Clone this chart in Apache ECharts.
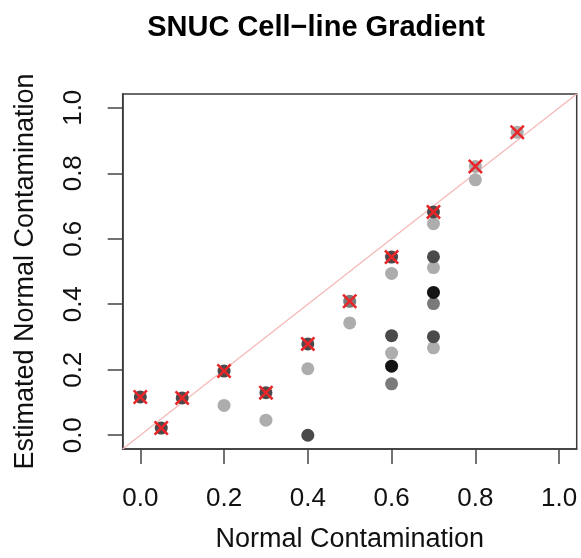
<!DOCTYPE html>
<html>
<head>
<meta charset="utf-8">
<script src="https://cdn.jsdelivr.net/npm/echarts@6/dist/echarts.min.js"></script>
<style>
html,body{margin:0;padding:0;background:#fff;}
#main{width:581px;height:558px;}
</style>
</head>
<body>
<div id="main"></div>
<script>
// ---- data ----
var titleText = "SNUC Cell\u2212line Gradient";
var xName = "Normal Contamination";
var yName = "Estimated Normal Contamination";
var tickValues = [0, 0.2, 0.4, 0.6, 0.8, 1.0];
var axisMin = -0.042, axisMax = 1.042;

// red X markers (estimates)
var crossPoints = [[0,0.117],[0.05,0.022],[0.1,0.114],[0.2,0.196],[0.3,0.130],[0.4,0.279],[0.5,0.409],[0.6,0.544],[0.7,0.682],[0.8,0.821],[0.9,0.925]];
// grey points grouped by shade
var lightPoints = [[0.8,0.821],[0.9,0.925],[0.2,0.091],[0.3,0.046],[0.4,0.203],[0.5,0.343],[0.6,0.494],[0.6,0.251],[0.7,0.646],[0.7,0.512],[0.7,0.267],[0.8,0.780]];
var midPoints = [[0.5,0.409],[0.6,0.157],[0.7,0.402]];
var darkPoints = [[0,0.117],[0.05,0.022],[0.1,0.114],[0.2,0.196],[0.3,0.130],[0.4,0.279],[0.6,0.544],[0.7,0.682],[0.4,0.0],[0.6,0.304],[0.7,0.545],[0.7,0.301]];
var blackPoints = [[0.6,0.211],[0.7,0.436]];

var chart = echarts.init(document.getElementById('main'), null, {renderer:'canvas'});
var FONT = '"Liberation Sans", Arial, sans-serif';
var crossPath = 'path://M0,1.2 L1.2,0 L5,3.8 L8.8,0 L10,1.2 L6.2,5 L10,8.8 L8.8,10 L5,6.2 L1.2,10 L0,8.8 L3.8,5 Z';

function scat(data, color) {
  return {type:'scatter', data:data, symbol:'circle', symbolSize:13, silent:true,
    itemStyle:{color:color, opacity:1}};
}

chart.setOption({
  animation:false,
  backgroundColor:'#fff',
  title:{text:titleText, left:311, top:8, textAlign:'center',
    textStyle:{fontFamily:FONT, fontSize:29, fontWeight:'bold', color:'#000'}},
  grid:{left:122.7, top:94, right:4.3, bottom:108, show:true, borderColor:'#3a3a3a', borderWidth:1.5, backgroundColor:'#fff', containLabel:false},
  xAxis:{type:'value', min:axisMin, max:axisMax,
    name:xName, nameLocation:'middle', nameGap:77,
    nameTextStyle:{fontFamily:FONT, fontSize:27, color:'#111'},
    axisLine:{show:true, onZero:false, lineStyle:{color:'#3a3a3a', width:1.5}},
    splitLine:{show:false},
    axisTick:{show:true, customValues:tickValues, length:15, inside:false, lineStyle:{color:'#444', width:1.5}},
    axisLabel:{customValues:tickValues, margin:37, fontFamily:FONT, fontSize:26, color:'#111',
      formatter:function(v){return v.toFixed(1);}}
  },
  yAxis:{type:'value', min:axisMin, max:axisMax,
    name:yName, nameLocation:'middle', nameGap:84,
    nameTextStyle:{fontFamily:FONT, fontSize:27, color:'#111'},
    axisLine:{show:true, onZero:false, lineStyle:{color:'#3a3a3a', width:1.5}},
    splitLine:{show:false},
    axisTick:{show:true, customValues:tickValues, length:15, inside:false, lineStyle:{color:'#444', width:1.5}},
    axisLabel:{customValues:tickValues, margin:36, rotate:90, fontFamily:FONT, fontSize:26, color:'#111',
      formatter:function(v){return v.toFixed(1);}}
  },
  series:[
    {type:'line', data:[[axisMin,axisMin],[axisMax,axisMax]], symbol:'none', silent:true,
      lineStyle:{color:'#f6bcbc', width:1.5}, z:1},
    Object.assign(scat(lightPoints,'#adadad'),{z:2}),
    Object.assign(scat(midPoints,'#7a7a7a'),{z:3}),
    Object.assign(scat(darkPoints,'#4a4a4a'),{z:4}),
    Object.assign(scat(blackPoints,'#141414'),{z:5}),
    {type:'scatter', data:crossPoints, symbol:crossPath, symbolSize:15, silent:true, z:6,
      itemStyle:{color:'#e8262a', opacity:1}}
  ]
});
</script>
</body>
</html>
